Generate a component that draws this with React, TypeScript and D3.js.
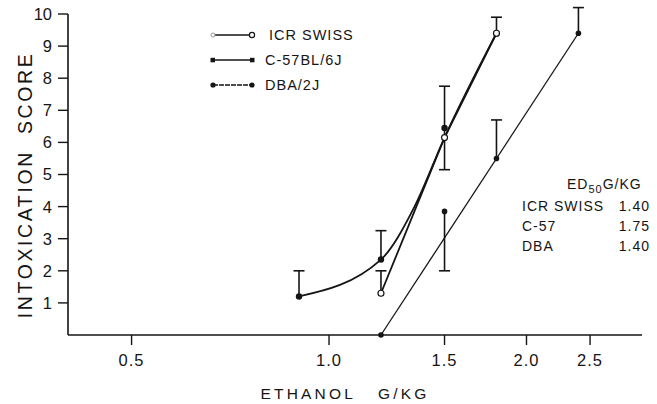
import React from 'react'
import * as d3 from 'd3'

// doses (g/kg) and mean scores
const icrDose = [1.2, 1.5, 1.8]
const icrScore = [1.3, 6.15, 9.4]
const c57Dose = [1.2, 1.5, 1.8, 2.4]
const c57Score = [0, 3.85, 5.5, 9.4]
const dbaDose = [0.9, 1.2, 1.5, 1.8]
const dbaScore = [1.2, 2.35, 6.45, 9.4]

// fitted curves drawn by the authors
const dbaFitDose = [0.9, 1.2, 1.35, 1.5, 1.8]
const dbaFitScore = [1.2, 2.35, 4.0, 6.15, 9.4]
const c57FitDose = [1.2, 2.4]
const c57FitScore = [0, 9.4]

// error bars: dose, low, high, mean
const errDose = [0.9, 1.2, 1.2, 1.5, 1.5, 1.8, 1.8, 2.4]
const errLow = [1.2, 2.35, 1.3, 5.15, 2.0, 5.5, 9.4, 9.4]
const errHigh = [2.0, 3.25, 2.0, 7.75, 3.85, 6.7, 9.9, 10.2]
const errMean = [1.2, 2.35, 1.3, 6.3, 3.85, 5.5, 9.4, 9.4]

const xTicks = [0.5, 1.0, 1.5, 2.0, 2.5]
const yTicks = [1, 2, 3, 4, 5, 6, 7, 8, 9, 10]

const edStrain = ['ICR SWISS', 'C-57', 'DBA']
const edValue = ['1.40', '1.75', '1.40']

const W = 657
const H = 404
const ink = '#151515'
const font = '"Liberation Sans", Arial, sans-serif'

function App() {
  const x = d3.scaleLog().domain([0.4, 3.0]).range([68, 642])
  const y = d3.scaleLinear().domain([0, 10]).range([335, 14])

  const line = d3.line<[number, number]>().x(d => x(d[0])).y(d => y(d[1]))
  const curve = d3
    .line<[number, number]>()
    .x(d => x(d[0]))
    .y(d => y(d[1]))
    .curve(d3.curveMonotoneX)

  const icrPts = icrDose.map((d, i) => [d, icrScore[i]] as [number, number])
  const c57Pts = c57Dose.map((d, i) => [d, c57Score[i]] as [number, number])
  const dbaPts = dbaDose.map((d, i) => [d, dbaScore[i]] as [number, number])
  const dbaFit = dbaFitDose.map((d, i) => [d, dbaFitScore[i]] as [number, number])
  const c57Fit = c57FitDose.map((d, i) => [d, c57FitScore[i]] as [number, number])

  const capW = 5.5

  return (
    <svg
      width={W}
      height={H}
      style={{ position: 'absolute', left: 0, top: 0, background: '#fff' }}
      fontFamily={font}
      fill={ink}
    >
      {/* axes */}
      <line x1={x.range()[0]} x2={x.range()[0]} y1={y(10)} y2={y(0)} stroke={ink} strokeWidth={1.6} />
      <line x1={x.range()[0]} x2={x.range()[1]} y1={y(0)} y2={y(0)} stroke={ink} strokeWidth={1.6} />
      {yTicks.map(t => (
        <g key={t}>
          <line x1={58} x2={68} y1={y(t)} y2={y(t)} stroke={ink} strokeWidth={1.4} />
          <text x={52} y={y(t)} dy="0.36em" textAnchor="end" fontSize={16.5}>
            {t}
          </text>
        </g>
      ))}
      {xTicks.map(t => (
        <g key={t}>
          <line x1={x(t)} x2={x(t)} y1={y(0)} y2={y(0) + 10} stroke={ink} strokeWidth={1.4} />
          <text x={x(t)} y={366} textAnchor="middle" fontSize={16.5} letterSpacing={1}>
            {t.toFixed(1)}
          </text>
        </g>
      ))}
      <text
        x={345}
        y={399}
        textAnchor="middle"
        fontSize={15.5}
        letterSpacing={3.2}
        style={{ whiteSpace: 'pre' }}
      >
        {'ETHANOL   G/KG'}
      </text>
      <text
        transform="translate(32,185) rotate(-90)"
        textAnchor="middle"
        fontSize={19.5}
        letterSpacing={2.6}
        style={{ whiteSpace: 'pre' }}
      >
        {'INTOXICATION  SCORE'}
      </text>

      {/* error bars */}
      {errDose.map((d, i) => {
        const cx = x(d)
        const capLow = errLow[i] < errMean[i]
        const capHigh = errHigh[i] > errMean[i]
        return (
          <g key={i} stroke={ink} strokeWidth={1.6}>
            <line x1={cx} x2={cx} y1={y(errLow[i])} y2={y(errHigh[i])} />
            {capHigh && <line x1={cx - capW} x2={cx + capW} y1={y(errHigh[i])} y2={y(errHigh[i])} />}
            {capLow && <line x1={cx - capW} x2={cx + capW} y1={y(errLow[i])} y2={y(errLow[i])} />}
          </g>
        )
      })}

      {/* fitted lines */}
      <path d={line(c57Fit) || ''} fill="none" stroke={ink} strokeWidth={1.3} />
      <path d={line(icrPts) || ''} fill="none" stroke={ink} strokeWidth={1.8} />
      <path d={curve(dbaFit) || ''} fill="none" stroke={ink} strokeWidth={1.8} />

      {/* points */}
      {c57Pts.map((p, i) => (
        <circle key={'c' + i} cx={x(p[0])} cy={y(p[1])} r={2.8} fill={ink} />
      ))}
      {dbaPts.map((p, i) => (
        <circle key={'d' + i} cx={x(p[0])} cy={y(p[1])} r={3.2} fill={ink} />
      ))}
      {icrPts.map((p, i) => (
        <circle key={'i' + i} cx={x(p[0])} cy={y(p[1])} r={3} fill="#fff" stroke={ink} strokeWidth={1.2} />
      ))}

      {/* legend */}
      <g fontSize={14.5} letterSpacing={1}>
        <line x1={213} x2={252} y1={35} y2={35} stroke={ink} strokeWidth={1.3} />
        <circle cx={213} cy={35} r={2} fill="#fff" stroke="#999" strokeWidth={1} />
        <circle cx={252} cy={35} r={2.6} fill="#fff" stroke={ink} strokeWidth={1.2} />
        <text x={269} y={40}>ICR SWISS</text>

        <line x1={213} x2={252} y1={60} y2={60} stroke={ink} strokeWidth={1.5} />
        <rect x={210.5} y={57.8} width={4.5} height={4.5} fill={ink} />
        <rect x={250} y={57.8} width={4.5} height={4.5} fill={ink} />
        <text x={265} y={65}>C-57BL/6J</text>

        <line x1={213} x2={252} y1={85} y2={85} stroke={ink} strokeWidth={1.4} strokeDasharray="5 1" />
        <circle cx={213} cy={85} r={2.6} fill={ink} />
        <circle cx={252} cy={85} r={2.6} fill={ink} />
        <text x={265} y={90}>DBA/2J</text>
      </g>

      {/* ED50 table */}
      <g fontSize={14} letterSpacing={1}>
        <text x={567} y={189}>
          ED<tspan fontSize={11} dy={4}>50</tspan>
          <tspan dy={-4}>G/KG</tspan>
        </text>
        {edStrain.map((s, i) => (
          <g key={s}>
            <text x={522} y={211 + i * 20}>{s}</text>
            <text x={650} y={211 + i * 20} textAnchor="end">{edValue[i]}</text>
          </g>
        ))}
      </g>
    </svg>
  )
}

export default App
